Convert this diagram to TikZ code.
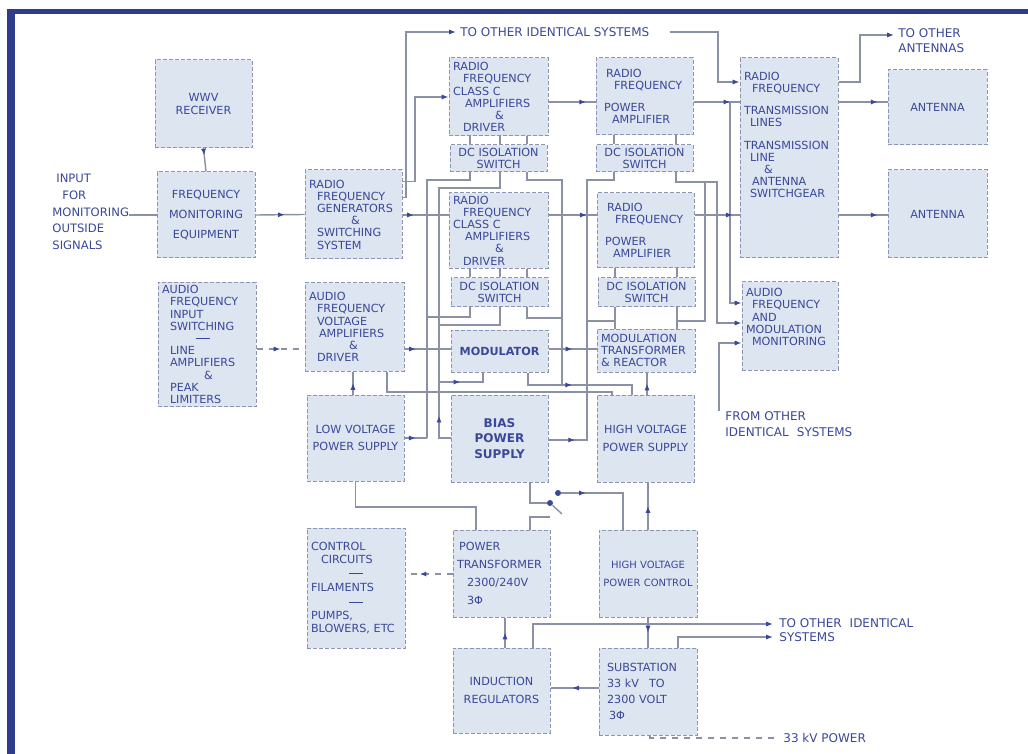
\documentclass[tikz,border=0pt]{standalone}
\usepackage{fontspec}
\setmainfont{DejaVu Sans}
\usepackage{xcolor}
\usepackage{tikz}
\usetikzlibrary{positioning,arrows.meta,decorations.markings}
\definecolor{frameNavy}{HTML}{2F3C8C}
\definecolor{inkBlue}{HTML}{3A4899}
\definecolor{boxFill}{HTML}{DDE5F1}
\definecolor{boxEdge}{HTML}{8C96B4}
\definecolor{wireGrey}{HTML}{8A91A5}
\newcommand{\blkfont}{\fontsize{5.6}{6.1}\selectfont}
\newcommand{\tagfont}{\fontsize{6}{7.5}\selectfont}
\newcommand{\sepdash}{\rule[1.6pt]{7pt}{0.5pt}}

\tikzset{
  blk/.style={draw=boxEdge, dash pattern=on 2pt off 1pt, line width=0.5pt, fill=boxFill,
    inner sep=1.5pt, font=\blkfont, text=inkBlue},
  sz/.style 2 args={minimum width=#1*0.5pt, minimum height=#2*0.5pt,
    text width=#1*0.5pt-4pt},
  wire/.style={draw=wireGrey, line width=0.7pt},
  feed/.style={wire, -{Latex[length=3.4pt,width=2.6pt,color=inkBlue]}},
  midarr/.style={postaction={decorate,decoration={markings,
    mark=at position #1 with {\arrow{Latex[length=3.4pt,width=2.6pt,color=inkBlue]}}}}},
  tag/.style={font=\tagfont, text=inkBlue, align=left, inner sep=0pt, anchor=west},
  jdot/.style={circle, fill=inkBlue, inner sep=0pt, minimum size=3pt},
}

\begin{document}
\begin{tikzpicture}[x=0.5pt, y=-0.5pt]
  \useasboundingbox (0,0) rectangle (1028,754);
  \fill[white] (0,0) rectangle (1028,754);
  \fill[frameNavy] (7,10) rectangle (15,754);
  \fill[frameNavy] (7,9) rectangle (1028,14);

  % frequency control and r.f. source
  \node[blk, sz={97}{88}, align=center] (wwv) at (203.5,104) {WWV\\RECEIVER};
  \node[blk, sz={98}{86}, align=center] (fmon) at (206,215) {FREQUENCY\\[4pt]MONITORING\\[4pt]EQUIPMENT};
  \node[blk, sz={97}{89}, align=left] (rfgen) at (353.5,214.5)
    {RADIO\\\hspace*{4pt}FREQUENCY\\\hspace*{4pt}GENERATORS\\\hspace*{21pt}\&\\\hspace*{4pt}SWITCHING\\\hspace*{4pt}SYSTEM};

  % r.f. amplifier columns
  \node[blk, sz={99}{78}, align=left] (ccA) at (498.5,97)
    {RADIO\\\hspace*{5pt}FREQUENCY\\CLASS C\\\hspace*{6pt}AMPLIFIERS\\\hspace*{21pt}\&\\\hspace*{5pt}DRIVER};
  \node[blk, sz={97}{27}, align=center] (dsA) at (498.5,158.5) {DC ISOLATION\\SWITCH};
  \node[blk, sz={99}{75}, align=left] (ccB) at (498.5,230.5)
    {RADIO\\\hspace*{5pt}FREQUENCY\\CLASS C\\\hspace*{6pt}AMPLIFIERS\\\hspace*{21pt}\&\\\hspace*{5pt}DRIVER};
  \node[blk, sz={97}{29}, align=center] (dsC) at (499.5,292.5) {DC ISOLATION\\SWITCH};
  \node[blk, sz={97}{42}, align=center, font=\blkfont\bfseries] (modr) at (499.5,351) {MODULATOR};
  \node[blk, sz={97}{87}, align=center, font=\fontsize{6}{7.6}\selectfont\bfseries] (bias) at (499.5,438.5) {BIAS\\POWER\\SUPPLY};

  \node[blk, sz={97}{77}, align=left] (paA) at (644.5,96.5)
    {\hspace*{3pt}RADIO\\\hspace*{7pt}FREQUENCY\\[5pt]\hspace*{2pt}POWER\\\hspace*{6pt}AMPLIFIER};
  \node[blk, sz={97}{27}, align=center] (dsB) at (644.5,158.5) {DC ISOLATION\\SWITCH};
  \node[blk, sz={97}{75}, align=left] (paB) at (645.5,230.5)
    {\hspace*{3pt}RADIO\\\hspace*{7pt}FREQUENCY\\[5pt]\hspace*{2pt}POWER\\\hspace*{6pt}AMPLIFIER};
  \node[blk, sz={97}{29}, align=center] (dsD) at (646.5,292.5) {DC ISOLATION\\SWITCH};
  \node[blk, sz={98}{43}, align=left] (mtr) at (646,350.5) {MODULATION\\TRANSFORMER\\\& REACTOR};
  \node[blk, sz={97}{87}, align=center] (hvps) at (645.5,438.5) {HIGH VOLTAGE\\[3pt]POWER SUPPLY};

  % transmission lines and antennas
  \node[blk, sz={98}{200}, align=left] (txl) at (789,158)
    {RADIO\\\hspace*{4pt}FREQUENCY\\[5pt]TRANSMISSION\\\hspace*{3pt}LINES\\[5pt]TRANSMISSION\\\hspace*{3pt}LINE\\\hspace*{10pt}\&\\\hspace*{4pt}ANTENNA\\\hspace*{3pt}SWITCHGEAR\\[17pt]\mbox{}};
  \node[blk, sz={99}{75}, align=center] (antA) at (937.5,107.5) {ANTENNA};
  \node[blk, sz={99}{88}, align=center] (antB) at (937.5,214) {ANTENNA};
  \node[blk, sz={96}{88}, align=left] (afmon) at (790,326)
    {AUDIO\\\hspace*{3pt}FREQUENCY\\\hspace*{3pt}AND\\MODULATION\\\hspace*{3pt}MONITORING\\[3pt]\mbox{}};

  % audio chain and low voltage
  \node[blk, sz={98}{123}, align=left] (afin) at (207,344.5)
    {AUDIO\\\hspace*{4pt}FREQUENCY\\\hspace*{4pt}INPUT\\\hspace*{4pt}SWITCHING\\\hspace*{17pt}\sepdash\\\hspace*{4pt}LINE\\\hspace*{4pt}AMPLIFIERS\\\hspace*{21pt}\&\\\hspace*{4pt}PEAK\\\hspace*{4pt}LIMITERS};
  \node[blk, sz={99}{88}, align=left] (afdrv) at (354.5,327)
    {AUDIO\\\hspace*{4pt}FREQUENCY\\\hspace*{4pt}VOLTAGE\\\hspace*{5pt}AMPLIFIERS\\\hspace*{20pt}\&\\\hspace*{4pt}DRIVER};
  \node[blk, sz={97}{86}, align=center] (lvps) at (355.5,438) {LOW VOLTAGE\\[2pt]POWER SUPPLY};

  % power section
  \node[blk, sz={98}{120}, align=left] (ctrl) at (356,588)
    {CONTROL\\\hspace*{5pt}CIRCUITS\\[1pt]\hspace*{19pt}\sepdash\\[1pt]FILAMENTS\\[1pt]\hspace*{19pt}\sepdash\\[1pt]PUMPS,\\BLOWERS, ETC};
  \node[blk, sz={97}{87}, align=left] (ptr) at (501.5,573.5)
    {\hspace*{1pt}POWER\\[3pt]TRANSFORMER\\[3pt]\hspace*{5pt}2300/240V\\[3pt]\hspace*{5pt}3Φ};
  \node[blk, sz={98}{87}, align=center, font=\fontsize{5}{6.1}\selectfont] (hvpc) at (648,573.5) {HIGH VOLTAGE\\[3pt]POWER CONTROL};
  \node[blk, sz={97}{85}, align=center] (ind) at (501.5,690.5) {INDUCTION\\[3pt]REGULATORS};
  \node[blk, sz={98}{87}, align=left] (subst) at (648,691.5)
    {\hspace*{2pt}SUBSTATION\\[2pt]\hspace*{2pt}33 kV\hspace{5pt}TO\\[2pt]\hspace*{2pt}2300 VOLT\\[2pt]\hspace*{3pt}3Φ};

  % outside labels
  \node[tag, font=\fontsize{5.8}{8.4}\selectfont] (inlbl) at (52,212)
    {\hspace*{2pt}INPUT\\\hspace*{5pt}FOR\\MONITORING\\OUTSIDE\\SIGNALS};
  \node[tag] (toSys) at (460,32) {TO OTHER IDENTICAL SYSTEMS};
  \node[tag] (toAnt) at (898,40.5) {TO OTHER\\ANTENNAS};
  \node[tag, font=\fontsize{6}{8}\selectfont] (fromSys) at (725,424) {FROM OTHER\\IDENTICAL\hspace{4pt}SYSTEMS};
  \node[tag, font=\fontsize{6}{7}\selectfont] (toSys2) at (779,630) {TO OTHER\hspace{4pt}IDENTICAL\\SYSTEMS};
  \node[tag] (pwr) at (783,738) {33 kV POWER};

  \node[jdot] (swA) at (550,503) {};
  \node[jdot] (swB) at (558,493) {};

  % r.f. path
  \draw[wire, midarr=0.3] (wwv.south) -- (fmon.north);
  \draw[wire] (inlbl.east |- fmon.west) -- (fmon.west);
  \draw[wire, midarr=0.6] (fmon.east) -- (rfgen.west);
  \draw[feed] ([yshift=-6pt]rfgen.north east) -| (415,97) -- (ccA.west);
  \draw[feed, shorten >=2pt] ([yshift=-14pt]rfgen.north east) -| (406,32) -- (toSys.west);
  \draw[feed] ([xshift=10pt]toSys.east) -| (718,82) -- (txl.west |- 0,82);
  \draw[wire, midarr=0.8] (ccA.east |- 0,102) -- (paA.west |- 0,102);
  \draw[wire, midarr=0.8] (paA.east |- 0,102) -- (txl.west |- 0,102);
  \draw[feed] (730,102) |- (afmon.west |- 0,303);
  \draw[feed, shorten >=2pt] (txl.east |- 0,82) -| (860,35) -- (toAnt.west |- 0,35);
  \draw[wire, midarr=0.8] (txl.east |- 0,102) -- (antA.west |- 0,102);
  \draw[wire, midarr=0.8] (txl.east |- 0,215) -- (antB.west |- 0,215);
  \draw[wire, midarr=0.25] (rfgen.east |- 0,215) -- (ccB.west |- 0,215);
  \draw[wire, midarr=0.8] (ccB.east |- 0,215) -- (paB.west |- 0,215);
  \draw[wire, midarr=0.85] (paB.east |- 0,215) -- (txl.west |- 0,215);

  % amplifier to switch leads
  \draw[wire] (ccA.south -| 470,0) -- (dsA.north -| 470,0);
  \draw[wire] (ccA.south -| 500,0) -- (dsA.north -| 500,0);
  \draw[wire] (ccA.south -| 527,0) -- (dsA.north -| 527,0);
  \draw[wire] (ccB.south -| 470,0) -- (dsC.north -| 470,0);
  \draw[wire] (ccB.south -| 500,0) -- (dsC.north -| 500,0);
  \draw[wire] (ccB.south -| 527,0) -- (dsC.north -| 527,0);
  \draw[wire] (paA.south -| 614,0) -- (dsB.north -| 614,0);
  \draw[wire] (paA.south -| 676,0) -- (dsB.north -| 676,0);
  \draw[wire] (paB.south -| 615,0) -- (dsD.north -| 615,0);
  \draw[wire] (paB.south -| 677,0) -- (dsD.north -| 677,0);
  \draw[wire] (dsD.south -| 615,0) -- (mtr.north -| 615,0);
  \draw[wire] (dsD.south -| 677,0) -- (mtr.north -| 677,0);

  % supply buses
  \draw[wire] (dsA.south -| 470,0) |- (427,180) -- (427,438);
  \draw[wire, midarr=0.5] (lvps.east |- 0,438) -- (427,438);
  \draw[wire] (dsC.south -| 470,0) |- (427,317);
  \draw[wire, midarr=0.1] (bias.west |- 0,438) -| (439,188) -| (dsA.south -| 500,0);
  \draw[wire] (dsC.south -| 500,0) |- (439,325);
  \draw[wire] (dsA.south -| 527,0) |- (562,180) -- (562,385);
  \draw[wire] (dsC.south -| 527,0) |- (562,318);
  \draw[wire, midarr=0.08] (bias.east |- 0,440) -| (587,180) -| (dsB.south -| 614,0);
  \draw[wire] (587,321) -- (615,321);
  \draw[feed] (dsB.south -| 676,0) |- (717,182) |- (afmon.west |- 0,323);
  \draw[wire] (705,182) |- (677,321);
  \draw[feed] ([xshift=-3pt]fromSys.north west) |- (afmon.west |- 0,343);

  % audio path
  \draw[wire, dashed, midarr=0.5] (afin.east |- 0,349) -- (afdrv.west |- 0,349);
  \draw[wire, midarr=0.25] (afdrv.east |- 0,349) -- (modr.west |- 0,349);
  \draw[wire, midarr=0.5] (modr.east |- 0,349) -- (mtr.west |- 0,349);
  \draw[wire, midarr=0.5] (lvps.north -| 353,0) -- (afdrv.south -| 353,0);
  \draw[wire] (afdrv.south -| 387,0) |- (612,392) -- (hvps.north -| 612,0);
  \draw[wire, midarr=0.4] (439,382) -| (modr.south -| 483,0);
  \draw[wire, midarr=0.45] (modr.south -| 528,0) |- (632,385) -- (hvps.north -| 632,0);
  \draw[wire, midarr=0.5] (hvps.north -| 647,0) -- (mtr.south -| 647,0);

  % power path
  \draw[wire] (lvps.south) |- (476,507) -- (ptr.north -| 476,0);
  \draw[wire] (bias.south -| 530,0) |- (swA);
  \draw[wire] (swA) -- (562,514);
  \draw[wire] (ptr.north -| 530,0) |- (550,517);
  \draw[wire, midarr=0.25] (swB) -| (hvpc.north -| 623,0);
  \draw[wire, midarr=0.5] (hvpc.north -| 648,0) -- (hvps.south -| 648,0);
  \draw[wire, midarr=0.5] (ind.north -| 505,0) -- (ptr.south -| 505,0);
  \draw[feed, shorten >=3pt] (ind.north -| 533,0) |- (toSys2.west |- 0,624);
  \draw[wire, midarr=0.5] (hvpc.south) -- (subst.north);
  \draw[feed, shorten >=3pt] (subst.north -| 678,0) |- (toSys2.west |- 0,637);
  \draw[wire, midarr=0.55] (subst.west |- 0,688) -- (ind.east |- 0,688);
  \draw[wire, dashed, midarr=0.7] (ptr.west |- 0,574) -- (ctrl.east |- 0,574);
  \draw[wire, dashed] (subst.south -| 650,0) |- ([xshift=-4pt]pwr.west);
\end{tikzpicture}
\end{document}
